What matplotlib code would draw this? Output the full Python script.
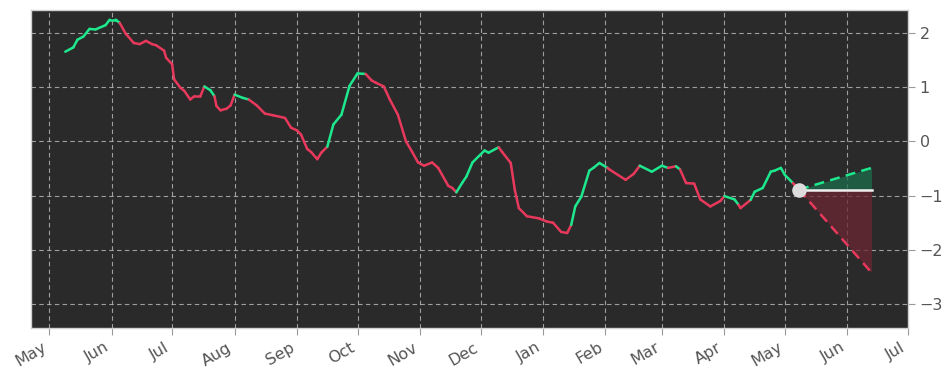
import matplotlib
matplotlib.use("Agg")
import matplotlib.pyplot as plt
import matplotlib.dates as mdates
import numpy as np
import pandas as pd

# ---- data ----
dates = [
    "2022-05-09", "2022-05-13", "2022-05-15", "2022-05-18", "2022-05-21", "2022-05-24",
    "2022-05-29", "2022-05-31", "2022-06-03", "2022-06-05", "2022-06-08", "2022-06-12",
    "2022-06-15", "2022-06-18", "2022-06-21", "2022-06-23", "2022-06-27", "2022-06-28",
    "2022-07-01", "2022-07-02", "2022-07-05", "2022-07-07", "2022-07-10", "2022-07-12",
    "2022-07-15", "2022-07-17", "2022-07-20", "2022-07-22", "2022-07-23", "2022-07-25",
    "2022-07-28", "2022-07-30", "2022-08-01", "2022-08-05", "2022-08-08", "2022-08-12",
    "2022-08-16", "2022-08-20", "2022-08-26", "2022-08-29", "2022-09-01", "2022-09-03",
    "2022-09-06", "2022-09-08", "2022-09-11", "2022-09-13", "2022-09-16", "2022-09-19",
    "2022-09-23", "2022-09-27", "2022-10-01", "2022-10-05", "2022-10-08", "2022-10-10",
    "2022-10-14", "2022-10-17", "2022-10-21", "2022-10-25", "2022-10-28", "2022-10-31",
    "2022-11-03", "2022-11-07", "2022-11-10", "2022-11-15", "2022-11-17", "2022-11-19",
    "2022-11-22", "2022-11-24", "2022-11-27", "2022-12-03", "2022-12-05", "2022-12-10",
    "2022-12-12", "2022-12-16", "2022-12-18", "2022-12-20", "2022-12-24", "2022-12-30",
    "2023-01-03", "2023-01-06", "2023-01-10", "2023-01-13", "2023-01-15", "2023-01-17",
    "2023-01-20", "2023-01-24", "2023-01-26", "2023-01-29", "2023-02-02", "2023-02-03",
    "2023-02-11", "2023-02-15", "2023-02-18", "2023-02-24", "2023-03-01", "2023-03-04",
    "2023-03-08", "2023-03-10", "2023-03-13", "2023-03-17", "2023-03-20", "2023-03-25",
    "2023-03-30", "2023-04-01", "2023-04-06", "2023-04-08", "2023-04-09", "2023-04-14",
    "2023-04-16", "2023-04-20", "2023-04-24", "2023-04-26", "2023-04-29", "2023-05-01",
    "2023-05-05", "2023-05-08",
]
values = [
    1.65, 1.73, 1.87, 1.93, 2.07, 2.06,
    2.14, 2.24, 2.24, 2.18, 1.98, 1.81,
    1.79, 1.85, 1.79, 1.77, 1.67, 1.54,
    1.42, 1.14, 0.99, 0.93, 0.77, 0.83,
    0.83, 1.01, 0.94, 0.83, 0.65, 0.57,
    0.60, 0.66, 0.86, 0.80, 0.77, 0.66,
    0.51, 0.48, 0.43, 0.25, 0.20, 0.12,
    -0.14, -0.20, -0.33, -0.21, -0.10, 0.31,
    0.49, 1.02, 1.25, 1.24, 1.12, 1.08,
    1.01, 0.77, 0.49, 0.00, -0.19, -0.39,
    -0.45, -0.39, -0.49, -0.82, -0.86, -0.94,
    -0.76, -0.65, -0.39, -0.17, -0.21, -0.11,
    -0.21, -0.40, -0.89, -1.23, -1.38, -1.42,
    -1.48, -1.50, -1.67, -1.69, -1.54, -1.20,
    -1.02, -0.54, -0.49, -0.40, -0.49, -0.52,
    -0.71, -0.60, -0.45, -0.56, -0.45, -0.49,
    -0.46, -0.52, -0.77, -0.78, -1.07, -1.20,
    -1.10, -1.01, -1.07, -1.17, -1.23, -1.08,
    -0.93, -0.86, -0.56, -0.54, -0.49, -0.62,
    -0.77, -0.89,
]
# trend of the segment starting at each point: 'g' up, 'r' down
trend = (
    "gggggggggr" "rrrrrrrrrr" "rrrrrggrrr" "rrggrrrrrr"
    "rrrrrrgggg" "grrrrrrrrr" "rrrrrggggg" "grrrrrrrrr"
    "rrggggggrr" "rrgggrgrrr" "rrrggrrggg" "ggggr"
)
forecast_end = "2023-06-13"
forecast_high = -0.49
forecast_mid = -0.89
forecast_low = -2.42
month_ticks = pd.date_range("2022-05-01", "2023-07-01", freq="MS")

GREEN = "#1ee88e"
RED = "#e8395c"

fig = plt.figure(figsize=(9.52, 3.81), dpi=100)
fig.patch.set_facecolor("white")
ax = fig.add_axes([0.0326, 0.139, 0.921, 0.835])
ax.set_facecolor("#2a2a2a")

d = mdates.date2num(pd.to_datetime(dates))
v = np.array(values)
for i in range(len(d) - 1):
    c = GREEN if trend[i] == "g" else RED
    ax.plot(d[i:i + 2], v[i:i + 2], color=c, lw=1.8, solid_capstyle="round", zorder=3)

x0 = d[-1]
x1 = mdates.date2num(pd.Timestamp(forecast_end))
y0 = v[-1]
ax.fill_between([x0, x1], [y0, forecast_mid], [y0, forecast_high],
                color="#1c6b4b", alpha=0.75, lw=0, zorder=2)
ax.fill_between([x0, x1], [y0, forecast_low], [y0, forecast_mid],
                color="#6b2734", alpha=0.75, lw=0, zorder=2)
ax.plot([x0, x1], [y0, forecast_high], color=GREEN, lw=1.8, ls=(0, (4, 2.5)), zorder=4)
ax.plot([x0, x1], [y0, forecast_low], color=RED, lw=1.8, ls=(0, (4, 2.5)), zorder=4)
ax.plot([x0, x1], [forecast_mid, forecast_mid], color="#f0f0f0", lw=1.8, zorder=4)
ax.scatter([x0], [y0], s=110, color="#dcdcdc", zorder=5, lw=0)

ax.set_xlim(mdates.date2num(pd.Timestamp("2022-04-22")), mdates.date2num(month_ticks[-1]))
ax.set_ylim(-3.44, 2.42)
ax.set_xticks(mdates.date2num(month_ticks))
ax.set_xticklabels([t.strftime("%b") for t in month_ticks])
ax.set_yticks([-3, -2, -1, 0, 1, 2])
ax.set_yticklabels(["\u22123", "\u22122", "\u22121", "0", "1", "2"])
ax.yaxis.tick_right()
ax.grid(True, color="#b5b5b5", ls=(0, (4, 3)), lw=0.8, alpha=0.85)
ax.tick_params(axis="both", colors="#9a9a9a", labelcolor="#555555", labelsize=11.5, length=5)
for lbl in ax.get_xticklabels():
    lbl.set_rotation(30)
    lbl.set_ha("right")
for s in ax.spines.values():
    s.set_color("#d0d0d0")
    s.set_linewidth(1.0)

fig.savefig("out.png", dpi=100)
